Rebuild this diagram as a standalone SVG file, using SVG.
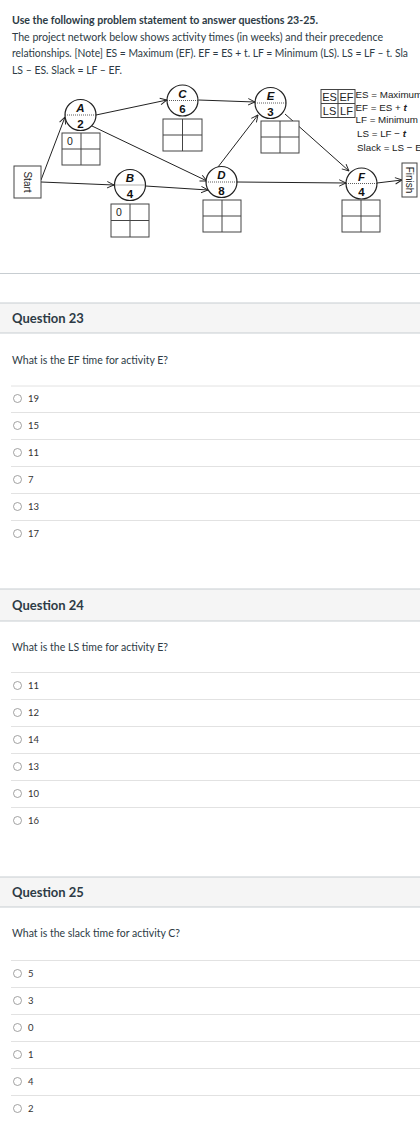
<svg xmlns="http://www.w3.org/2000/svg" width="420" height="1134" viewBox="0 0 420 1134">
<style>
.t{font-family:Lato,"Open Sans",sans-serif;fill:#2d3b45;font-size:11px}
.hd{font-family:Lato,"Open Sans",sans-serif;font-weight:bold;font-size:13px;fill:#2d3b45}
.q{font-family:Lato,"Open Sans",sans-serif;font-size:12px;fill:#2d3b45}
.opt{font-family:Lato,"Open Sans",sans-serif;font-size:9.5px;fill:#333}
.band{fill:#f5f5f5;stroke:none}
.bl{stroke:#c7cdd1;stroke-width:1}
.ol{stroke:#e2e2e2;stroke-width:1}
.rad{fill:#fff;stroke:#8a8a8a;stroke-width:0.8}
.nd{fill:#fff;stroke:#222;stroke-width:1.2}
.dot{stroke:#333;stroke-width:0.8;stroke-dasharray:1,1}
.box{fill:#fff;stroke:#444;stroke-width:1}
.grid{stroke:#444;stroke-width:1}
.lt{font-family:"Liberation Sans",Arial,sans-serif;font-weight:bold;font-style:italic;font-size:11.5px;fill:#111;text-anchor:middle}
.nm{font-family:"Liberation Sans",Arial,sans-serif;font-weight:bold;font-size:11.5px;fill:#111;text-anchor:middle}
.bx{font-family:"Liberation Sans",Arial,sans-serif;font-size:10.5px;fill:#222;text-anchor:middle}
.sf{font-family:"Liberation Sans",Arial,sans-serif;font-size:10px;fill:#222;text-anchor:middle}
.lg{font-family:"Liberation Sans",Arial,sans-serif;font-size:9.8px;fill:#222}
.lgb{font-family:"Liberation Sans",Arial,sans-serif;font-size:11px;fill:#222;text-anchor:middle}
.cn{fill:none;stroke:#222;stroke-width:1;marker-end:url(#ah)}
</style>
<defs>
<marker id="ah" viewBox="0 0 10 10" refX="9.5" refY="5" markerWidth="8" markerHeight="8" markerUnits="userSpaceOnUse" orient="auto">
<path d="M1,1 L9.5,5 L1,9" fill="none" stroke="#222" stroke-width="1.2"/>
</marker>
</defs>
<rect width="420" height="1134" fill="#fff"/>

<g id="intro">
<text class="t" x="12" y="24" font-weight="bold" textLength="306" lengthAdjust="spacingAndGlyphs">Use the following problem statement to answer questions 23-25.</text>
<text class="t" x="12" y="40.5" textLength="371" lengthAdjust="spacingAndGlyphs">The project network below shows activity times (in weeks) and their precedence</text>
<text class="t" x="12" y="57" font-size="10.2" textLength="396" lengthAdjust="spacingAndGlyphs">relationships. [Note] ES = Maximum (EF). EF = ES + t. LF = Minimum (LS). LS = LF – t. Sla</text>
<text class="t" x="12" y="73.5" textLength="110" lengthAdjust="spacingAndGlyphs">LS – ES. Slack = LF – EF.</text>
</g>

<g id="connectors">
<line class="cn" x1="41" y1="180" x2="65" y2="117"/>
<line class="cn" x1="41" y1="182" x2="114" y2="185"/>
<line class="cn" x1="96" y1="115" x2="167" y2="100"/>
<line class="cn" x1="92" y1="126" x2="207" y2="181"/>
<line class="cn" x1="145.5" y1="186" x2="208" y2="190"/>
<line class="cn" x1="198.5" y1="100" x2="255" y2="102"/>
<line class="cn" x1="218" y1="167" x2="258" y2="115"/>
<line class="cn" x1="285" y1="114" x2="349" y2="171"/>
<line class="cn" x1="237" y1="182" x2="346" y2="183"/>
<line class="cn" x1="377" y1="183" x2="402" y2="180"/>
</g>

<g id="start">
<rect class="box" x="14" y="166" width="27" height="32"/>
<text class="sf" transform="translate(27.5,182) rotate(90)" dy="3.5">Start</text>
</g>
<g id="finish">
<rect class="box" x="402" y="163" width="15" height="34"/>
<text class="sf" transform="translate(409.5,180) rotate(90)" dy="3.5">Finish</text>
</g>

<g id="nodeA">
<circle class="nd" cx="80.5" cy="115" r="15.5"/>
<line class="dot" x1="65" y1="115" x2="96" y2="115"/>
<text class="lt" x="80.5" y="112">A</text>
<text class="nm" x="80.5" y="127.5">2</text>
<rect class="box" x="62" y="133" width="38" height="32"/>
<line class="grid" x1="81" y1="133" x2="81" y2="165"/><line class="grid" x1="62" y1="149" x2="100" y2="149"/>
<text class="bx" x="70" y="145">0</text>
</g>
<g id="nodeB">
<circle class="nd" cx="130" cy="185" r="15.5"/>
<line class="dot" x1="114.5" y1="185" x2="145.5" y2="185"/>
<text class="lt" x="130" y="182">B</text>
<text class="nm" x="130" y="197.5">4</text>
<rect class="box" x="111" y="204" width="38" height="33"/>
<line class="grid" x1="130" y1="204" x2="130" y2="237"/><line class="grid" x1="111" y1="220.5" x2="149" y2="220.5"/>
<text class="bx" x="119" y="216">0</text>
</g>
<g id="nodeC">
<circle class="nd" cx="182.5" cy="100.5" r="15.5"/>
<line class="dot" x1="167" y1="100.5" x2="198" y2="100.5"/>
<text class="lt" x="182.5" y="97.5">C</text>
<text class="nm" x="182.5" y="113">6</text>
<rect class="box" x="163" y="119" width="39" height="32"/>
<line class="grid" x1="182.5" y1="119" x2="182.5" y2="151"/><line class="grid" x1="163" y1="135" x2="202" y2="135"/>
</g>
<g id="nodeD">
<circle class="nd" cx="221.5" cy="182" r="15.5"/>
<line class="dot" x1="206" y1="182" x2="237" y2="182"/>
<text class="lt" x="221.5" y="179">D</text>
<text class="nm" x="221.5" y="194.5">8</text>
<rect class="box" x="203" y="200" width="38" height="32"/>
<line class="grid" x1="222" y1="200" x2="222" y2="232"/><line class="grid" x1="203" y1="216" x2="241" y2="216"/>
</g>
<g id="nodeE">
<circle class="nd" cx="270.5" cy="103" r="15.5"/>
<line class="dot" x1="255" y1="103" x2="286" y2="103"/>
<text class="lt" x="270.5" y="100">E</text>
<text class="nm" x="270.5" y="115.5">3</text>
<rect class="box" x="261" y="121" width="38" height="32"/>
<line class="grid" x1="280" y1="121" x2="280" y2="153"/><line class="grid" x1="261" y1="137" x2="299" y2="137"/>
</g>
<g id="nodeF">
<circle class="nd" cx="361.5" cy="183.5" r="15.5"/>
<line class="dot" x1="346" y1="183.5" x2="377" y2="183.5"/>
<text class="lt" x="361.5" y="180.5">F</text>
<text class="nm" x="361.5" y="196">4</text>
<rect class="box" x="342" y="200" width="38" height="32"/>
<line class="grid" x1="361" y1="200" x2="361" y2="232"/><line class="grid" x1="342" y1="216" x2="380" y2="216"/>
</g>

<g id="legend">
<rect class="box" x="321" y="89.5" width="34" height="28" stroke="#777"/>
<line class="grid" x1="338" y1="89.5" x2="338" y2="117.5" stroke="#777"/><line class="grid" x1="321" y1="103.5" x2="355" y2="103.5" stroke="#777"/>
<text class="lgb" x="329.5" y="100.5">ES</text>
<text class="lgb" x="346.5" y="100.5">EF</text>
<text class="lgb" x="329.5" y="114.5">LS</text>
<text class="lgb" x="346.5" y="114.5">LF</text>
<text class="lg" x="355.5" y="98">ES = Maximum</text>
<text class="lg" x="355.5" y="111">EF = ES + <tspan font-weight="bold" font-style="italic">t</tspan></text>
<text class="lg" x="355.5" y="123">LF = Minimum</text>
<text class="lg" x="357" y="137">LS = LF − <tspan font-weight="bold" font-style="italic">t</tspan></text>
<text class="lg" x="357" y="150.5">Slack = LS − E</text>
</g>

<line class="bl" x1="0" y1="273.5" x2="420" y2="273.5"/>

<g id="q23">
<rect class="band" x="0" y="303" width="420" height="30"/>
<line class="bl" x1="0" y1="303" x2="420" y2="303"/><line class="bl" x1="0" y1="333" x2="420" y2="333"/>
<text class="hd" x="12" y="322.5">Question 23</text>
<text class="q" x="12" y="364" textLength="156" lengthAdjust="spacingAndGlyphs">What is the EF time for activity E?</text>
<line class="ol" x1="11" y1="386" x2="420" y2="386"/>
<line class="ol" x1="11" y1="412.5" x2="420" y2="412.5"/>
<line class="ol" x1="11" y1="439.5" x2="420" y2="439.5"/>
<line class="ol" x1="11" y1="466.5" x2="420" y2="466.5"/>
<line class="ol" x1="11" y1="493.5" x2="420" y2="493.5"/>
<line class="ol" x1="11" y1="520.5" x2="420" y2="520.5"/>
<circle class="rad" cx="17.5" cy="398.5" r="4"/><text class="opt" x="28" y="401.5">19</text>
<circle class="rad" cx="17.5" cy="425.5" r="4"/><text class="opt" x="28" y="428.5">15</text>
<circle class="rad" cx="17.5" cy="452.5" r="4"/><text class="opt" x="28" y="455.5">11</text>
<circle class="rad" cx="17.5" cy="479.5" r="4"/><text class="opt" x="28" y="482.5">7</text>
<circle class="rad" cx="17.5" cy="506.5" r="4"/><text class="opt" x="28" y="509.5">13</text>
<circle class="rad" cx="17.5" cy="533.5" r="4"/><text class="opt" x="28" y="536.5">17</text>
</g>

<g id="q24">
<rect class="band" x="0" y="589" width="420" height="32"/>
<line class="bl" x1="0" y1="589" x2="420" y2="589"/><line class="bl" x1="0" y1="621" x2="420" y2="621"/>
<text class="hd" x="12" y="609.5">Question 24</text>
<text class="q" x="12" y="651" textLength="156" lengthAdjust="spacingAndGlyphs">What is the LS time for activity E?</text>
<line class="ol" x1="11" y1="672.5" x2="420" y2="672.5"/>
<line class="ol" x1="11" y1="699.5" x2="420" y2="699.5"/>
<line class="ol" x1="11" y1="726.5" x2="420" y2="726.5"/>
<line class="ol" x1="11" y1="753.5" x2="420" y2="753.5"/>
<line class="ol" x1="11" y1="780.5" x2="420" y2="780.5"/>
<line class="ol" x1="11" y1="807.5" x2="420" y2="807.5"/>
<circle class="rad" cx="17.5" cy="685.5" r="4"/><text class="opt" x="28" y="688.5">11</text>
<circle class="rad" cx="17.5" cy="712.5" r="4"/><text class="opt" x="28" y="715.5">12</text>
<circle class="rad" cx="17.5" cy="739.5" r="4"/><text class="opt" x="28" y="742.5">14</text>
<circle class="rad" cx="17.5" cy="766.5" r="4"/><text class="opt" x="28" y="769.5">13</text>
<circle class="rad" cx="17.5" cy="793.5" r="4"/><text class="opt" x="28" y="796.5">10</text>
<circle class="rad" cx="17.5" cy="820.5" r="4"/><text class="opt" x="28" y="823.5">16</text>
</g>

<g id="q25">
<rect class="band" x="0" y="877" width="420" height="30"/>
<line class="bl" x1="0" y1="877" x2="420" y2="877"/><line class="bl" x1="0" y1="907" x2="420" y2="907"/>
<text class="hd" x="12" y="896.5">Question 25</text>
<text class="q" x="12" y="937" textLength="168" lengthAdjust="spacingAndGlyphs">What is the slack time for activity C?</text>
<line class="ol" x1="11" y1="960.5" x2="420" y2="960.5"/>
<line class="ol" x1="11" y1="987.5" x2="420" y2="987.5"/>
<line class="ol" x1="11" y1="1014.5" x2="420" y2="1014.5"/>
<line class="ol" x1="11" y1="1041.5" x2="420" y2="1041.5"/>
<line class="ol" x1="11" y1="1068.5" x2="420" y2="1068.5"/>
<line class="ol" x1="11" y1="1095.5" x2="420" y2="1095.5"/>
<circle class="rad" cx="17.5" cy="973.5" r="4"/><text class="opt" x="28" y="976.5">5</text>
<circle class="rad" cx="17.5" cy="1000.5" r="4"/><text class="opt" x="28" y="1003.5">3</text>
<circle class="rad" cx="17.5" cy="1027.5" r="4"/><text class="opt" x="28" y="1030.5">0</text>
<circle class="rad" cx="17.5" cy="1054.5" r="4"/><text class="opt" x="28" y="1057.5">1</text>
<circle class="rad" cx="17.5" cy="1081.5" r="4"/><text class="opt" x="28" y="1084.5">4</text>
<circle class="rad" cx="17.5" cy="1108.5" r="4"/><text class="opt" x="28" y="1111.5">2</text>
</g>
</svg>
